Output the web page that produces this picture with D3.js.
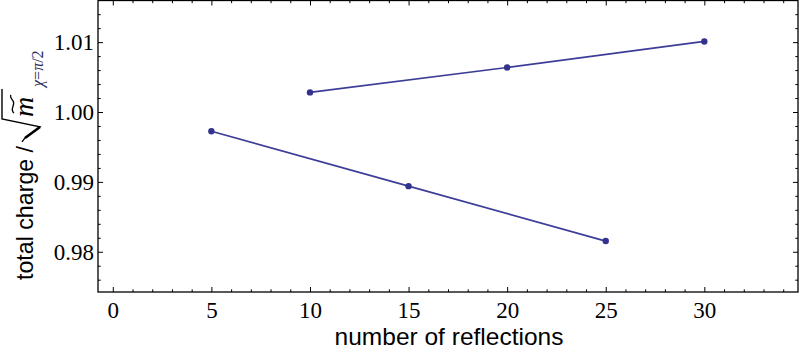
<!DOCTYPE html>
<html>
<head>
<meta charset="utf-8">
<script src="https://cdn.jsdelivr.net/npm/d3@7"></script>
<style>
  body { margin: 0; background: #fff; }
</style>
</head>
<body>
<svg id="chart"></svg>
<script>
// odd number of reflections
const oddN = [5, 15, 25];
const oddQ = [0.99724, 0.98939, 0.98153];
// even number of reflections
const evenN = [10, 20, 30];
const evenQ = [1.00281, 1.00637, 1.0101];

const xTicks = [0, 5, 10, 15, 20, 25, 30];
const yTicks = [0.98, 0.99, 1.00, 1.01];

const W = 800, H = 356;
const frame = {left: 98, right: 798, top: 0.5, bottom: 292};
const col = "#3d3d99";
const serif = "Liberation Serif";
const sans = "Liberation Sans";

const svg = d3.select("#chart").attr("width", W).attr("height", H);

const x = d3.scaleLinear().domain([-0.75, 34.75]).range([frame.left, frame.right]);
const y = d3.scaleLinear().domain([0.97424, 1.01596]).range([frame.bottom, frame.top]);

const xMinor = d3.range(0, 35, 1).filter(v => v % 5 !== 0);
const yMinor = d3.range(0.976, 1.0159, 0.002).filter(v => Math.abs(Math.round(v * 100) - v * 100) > 0.01);

function styleAxis(g) {
    g.select(".domain").remove();
    g.selectAll(".tick line").attr("stroke", "#000").attr("stroke-width", 1);
    g.selectAll(".tick text")
        .attr("fill", "#000")
        .style("font-family", serif)
        .style("font-size", "23px");
}

// bottom
svg.append("g").attr("transform", `translate(0,${frame.bottom})`)
    .call(d3.axisBottom(x).tickValues(xTicks).tickSize(-5).tickPadding(26).tickFormat(d3.format("d")))
    .call(styleAxis)
    .call(g => g.selectAll(".tick text").attr("dy", null));
svg.append("g").attr("transform", `translate(0,${frame.bottom})`)
    .call(d3.axisBottom(x).tickValues(xMinor).tickSize(-2.7).tickFormat(""))
    .call(styleAxis);
// top
svg.append("g").attr("transform", `translate(0,${frame.top})`)
    .call(d3.axisTop(x).tickValues(xTicks).tickSize(-5).tickFormat(""))
    .call(styleAxis);
svg.append("g").attr("transform", `translate(0,${frame.top})`)
    .call(d3.axisTop(x).tickValues(xMinor).tickSize(-2.7).tickFormat(""))
    .call(styleAxis);
// left
svg.append("g").attr("transform", `translate(${frame.left},0)`)
    .call(d3.axisLeft(y).tickValues(yTicks).tickSize(-5).tickPadding(4).tickFormat(d3.format(".2f")))
    .call(styleAxis);
svg.append("g").attr("transform", `translate(${frame.left},0)`)
    .call(d3.axisLeft(y).tickValues(yMinor).tickSize(-2.7).tickFormat(""))
    .call(styleAxis);
// right
svg.append("g").attr("transform", `translate(${frame.right},0)`)
    .call(d3.axisRight(y).tickValues(yTicks).tickSize(-5).tickFormat(""))
    .call(styleAxis);
svg.append("g").attr("transform", `translate(${frame.right},0)`)
    .call(d3.axisRight(y).tickValues(yMinor).tickSize(-2.7).tickFormat(""))
    .call(styleAxis);

// frame
svg.append("rect")
    .attr("x", frame.left).attr("y", frame.top)
    .attr("width", frame.right - frame.left).attr("height", frame.bottom - frame.top)
    .attr("fill", "none").attr("stroke", "#000").attr("stroke-width", 1.3);

// series
const line = d3.line().x(d => x(d[0])).y(d => y(d[1]));
[[oddN, oddQ], [evenN, evenQ]].forEach(([ns, qs]) => {
    const pts = ns.map((n, i) => [n, qs[i]]);
    svg.append("path").datum(pts)
        .attr("d", line).attr("fill", "none")
        .attr("stroke", col).attr("stroke-width", 1.7);
    svg.selectAll(null).data(pts).join("circle")
        .attr("cx", d => x(d[0])).attr("cy", d => y(d[1]))
        .attr("r", 3.2).attr("fill", "#33338f");
});

// x label
svg.append("text")
    .style("font-family", sans).style("font-size", "24.5px")
    .attr("x", 449).attr("y", 345).attr("text-anchor", "middle")
    .text("number of reflections");

// y label (rotated)
const yl = svg.append("g").attr("transform", "translate(33,280) rotate(-90)");
const t1 = yl.append("text")
    .style("font-family", sans).style("font-size", "23.2px")
    .attr("x", 0).attr("y", 0).text("total charge /");
const uE = t1.node().getComputedTextLength();
// radical sign
yl.append("path")
    .attr("d", `M${uE + 4},-11 L${uE + 8},-8 L${uE + 19},7 L${uE + 27},-31 L${uE + 57},-31`)
    .attr("fill", "none").attr("stroke", "#000").attr("stroke-width", 1.4)
    .attr("stroke-linejoin", "miter");
yl.append("path")
    .attr("d", `M${uE + 8},-8 L${uE + 19},7`)
    .attr("stroke", "#000").attr("stroke-width", 2.6);
yl.append("text")
    .attr("x", uE + 29).attr("y", 0)
    .style("font-family", serif).style("font-style", "italic").style("font-size", "28px")
    .text("m");
yl.append("path")
    .attr("d", `M${uE + 33},-19 C${uE + 37},-24 ${uE + 41},-17 ${uE + 45},-20 S${uE + 50},-23 ${uE + 51},-22`)
    .attr("fill", "none").attr("stroke", "#000").attr("stroke-width", 1.3);
yl.append("text")
    .attr("x", uE + 59).attr("y", 10)
    .style("font-family", serif).style("font-size", "16px").attr("fill", "#2a2a5a")
    .html('<tspan font-style="italic">χ</tspan>=<tspan font-style="italic">π</tspan>/2');
</script>
</body>
</html>
